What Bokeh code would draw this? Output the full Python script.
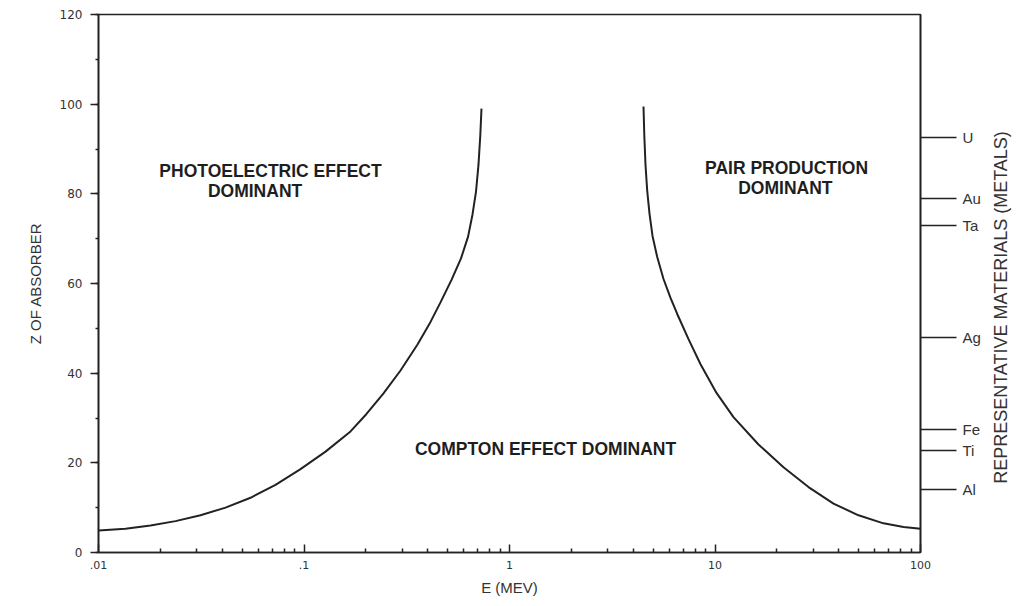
import math
from bokeh.plotting import figure
from bokeh.layouts import row
from bokeh.models import LinearAxis, Range1d, FixedTicker, Label, SingleIntervalTicker
from bokeh.embed import file_html
from bokeh.resources import INLINE

# ---- data ----
photo_E = [0.01, 0.01353, 0.01791, 0.02370, 0.03136, 0.04150, 0.05492, 0.07267,
           0.09616, 0.1273, 0.1684, 0.2014, 0.2437, 0.2949, 0.3567, 0.4081,
           0.4615, 0.5222, 0.5808, 0.6282, 0.6607, 0.6871, 0.7065, 0.7209, 0.7306]
photo_Z = [4.9, 5.3, 6.0, 7.0, 8.3, 10.0, 12.2, 15.1,
           18.6, 22.5, 27.0, 30.9, 35.5, 40.6, 46.4, 51.0,
           55.8, 60.8, 65.6, 70.4, 75.4, 80.5, 86.5, 93.0, 99.0]

pair_E = [4.488, 4.529, 4.590, 4.678, 4.800, 4.965, 5.234, 5.616, 6.074, 6.549,
          7.432, 8.503, 10.17, 12.30, 16.28, 21.54, 28.51, 37.73, 49.93, 66.07,
          82.68, 100.0]
pair_Z = [99.5, 93.0, 86.5, 80.7, 75.6, 70.6, 65.9, 61.0, 56.8, 53.2,
          47.6, 42.0, 35.6, 30.2, 24.1, 19.0, 14.6, 10.9, 8.3, 6.5,
          5.7, 5.3]

materials = ["U", "Au", "Ta", "Ag", "Fe", "Ti", "Al"]
material_Z = [92.5, 79.0, 73.0, 48.0, 27.5, 22.7, 14.0]

x_ticks = [0.01, 0.1, 1, 10, 100]
x_tick_labels = [".01", ".1", "1", "10", "100"]
x_minor = [m * d for d in [0.01, 0.1, 1, 10] for m in range(2, 10)]

INK = "#222222"
TXT = "#333333"
SANS = "Liberation Sans"
H = 598

p = figure(width=990, height=H, x_axis_type="log",
           x_range=Range1d(0.01, 100), y_range=Range1d(0, 120),
           output_backend="svg", toolbar_location=None,
           min_border_left=98, min_border_right=70,
           min_border_top=14, min_border_bottom=46)
p.grid.visible = False
p.outline_line_color = INK
p.outline_line_width = 1.6
p.background_fill_color = "white"
p.border_fill_color = "white"

# left axis
ya = p.yaxis[0]
ya.ticker = SingleIntervalTicker(interval=20, num_minor_ticks=2)
ya.major_tick_out = 8
ya.major_tick_in = 0
ya.minor_tick_out = 3
ya.minor_tick_in = 0
ya.axis_line_color = INK
ya.axis_line_width = 1.6
ya.major_tick_line_color = INK
ya.major_tick_line_width = 1.5
ya.minor_tick_line_color = INK
ya.minor_tick_line_width = 1.5
ya.major_label_text_font = "DejaVu Sans"
ya.major_label_text_font_size = "12px"
ya.major_label_text_color = TXT
ya.major_label_standoff = 8
ya.axis_label = "Z OF ABSORBER"
ya.axis_label_text_font = SANS
ya.axis_label_text_font_size = "15px"
ya.axis_label_text_font_style = "normal"
ya.axis_label_text_color = TXT
ya.axis_label_standoff = 13

# bottom axis
xa = p.xaxis[0]
xa.ticker = FixedTicker(ticks=x_ticks, minor_ticks=x_minor)
xa.major_label_overrides = {t: l for t, l in zip(x_ticks, x_tick_labels)}
xa.major_tick_in = 8
xa.major_tick_out = 0
xa.minor_tick_in = 4
xa.minor_tick_out = 0
xa.axis_line_color = INK
xa.axis_line_width = 1.6
xa.major_tick_line_color = INK
xa.major_tick_line_width = 1.5
xa.minor_tick_line_color = INK
xa.minor_tick_line_width = 1.5
xa.major_label_text_font = "DejaVu Sans"
xa.major_label_text_font_size = "11px"
xa.major_label_text_color = TXT
xa.major_label_standoff = 8
xa.axis_label = "E (MEV)"
xa.axis_label_text_font = SANS
xa.axis_label_text_font_size = "15px"
xa.axis_label_text_font_style = "normal"
xa.axis_label_text_color = TXT
xa.axis_label_standoff = 7

# right axis with representative materials
ra = LinearAxis(ticker=FixedTicker(ticks=material_Z, minor_ticks=[]),
                major_label_overrides={z: m for z, m in zip(material_Z, materials)})
ra.major_tick_out = 36
ra.major_tick_in = 0
ra.major_tick_line_color = INK
ra.major_tick_line_width = 1.4
ra.minor_tick_line_color = None
ra.axis_line_color = INK
ra.axis_line_width = 1.6
ra.major_label_text_font = SANS
ra.major_label_text_font_size = "15px"
ra.major_label_text_color = TXT
ra.major_label_standoff = 6
p.add_layout(ra, "right")

# curves
p.line(photo_E, photo_Z, line_color=INK, line_width=2)
p.line(pair_E, pair_Z, line_color=INK, line_width=2)

# region labels
def region(x, y, txt):
    p.add_layout(Label(x=x, y=y, text=txt, text_align="center", text_baseline="middle",
                       text_font=SANS, text_font_style="bold", text_font_size="17.5px",
                       text_color="#1e1e1e"))

region(0.0687, 85.05, "PHOTOELECTRIC EFFECT")
region(0.0578, 80.6, "DOMINANT")
region(22.3, 85.66, "PAIR PRODUCTION")
region(22.0, 81.2, "DOMINANT")
region(1.497, 23.13, "COMPTON EFFECT DOMINANT")

# side strip holding the right-hand title, reading bottom to top
p2 = figure(width=30, height=H, x_range=Range1d(0, 1), y_range=Range1d(0, 1),
            output_backend="svg", toolbar_location=None, min_border=0)
p2.axis.visible = False
p2.grid.visible = False
p2.outline_line_color = None
p2.add_layout(Label(x=10, y=245, x_units="screen", y_units="screen", angle=math.pi / 2,
                    text="REPRESENTATIVE MATERIALS (METALS)", text_align="center",
                    text_baseline="middle", text_font=SANS, text_font_size="18px",
                    text_color=TXT))

layout = row(p, p2)
open("out.html", "w").write(file_html(layout, INLINE))
